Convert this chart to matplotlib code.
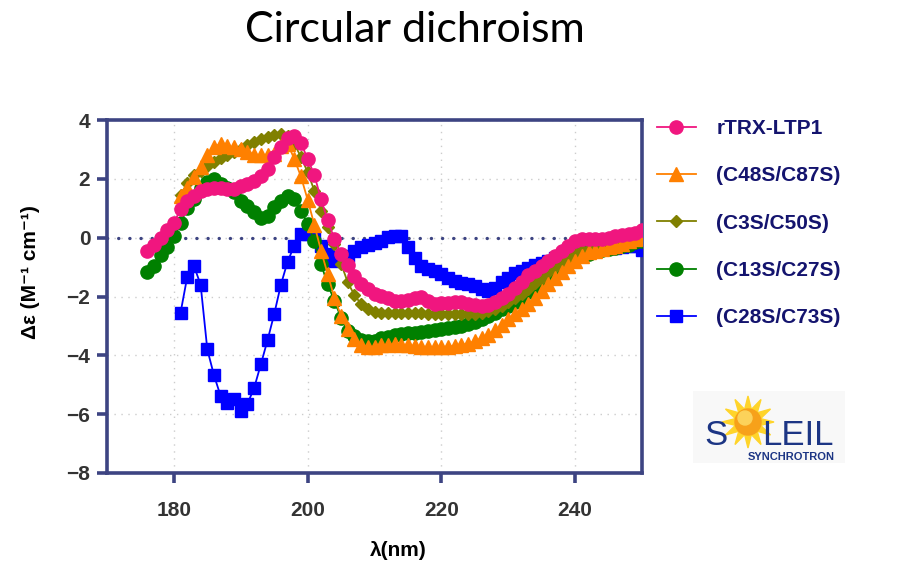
import numpy as np
import matplotlib
matplotlib.use("Agg")
import matplotlib.pyplot as plt
from matplotlib.patches import Circle, Polygon

# ---- data (delta epsilon, M^-1 cm^-1) ----
WL_LONG = list(range(176, 251))    # rTRX-LTP1 and C13S/C27S
WL_SHORT = list(range(181, 251))   # the other three mutants

RTRX = [-0.44, -0.24, 0.00, 0.26, 0.49, 0.98, 1.23, 1.41, 1.58, 1.66,
        1.70, 1.70, 1.67, 1.64, 1.76, 1.84, 1.93, 2.10, 2.33, 2.73,
        3.07, 3.39, 3.47, 3.22, 2.68, 2.14, 1.30, 0.60, -0.05, -0.56,
        -0.92, -1.32, -1.56, -1.73, -1.90, -1.97, -2.05, -2.14, -2.16, -2.12,
        -2.05, -2.03, -2.15, -2.24, -2.23, -2.23, -2.20, -2.20, -2.25, -2.30,
        -2.32, -2.30, -2.20, -2.05, -1.90, -1.70, -1.50, -1.28, -1.12, -0.95,
        -0.80, -0.62, -0.45, -0.28, -0.13, -0.05, -0.04, -0.06, -0.03, 0.00,
        0.05, 0.08, 0.12, 0.16, 0.26]

C13S_C27S = [-1.18, -0.96, -0.58, -0.33, 0.07, 0.49, 1.00, 1.33, 1.70, 1.89,
             1.98, 1.83, 1.70, 1.55, 1.26, 1.09, 0.86, 0.66, 0.75, 1.03,
             1.26, 1.43, 1.30, 0.92, 0.47, -0.13, -0.90, -1.58, -2.15, -2.72,
             -3.17, -3.35, -3.48, -3.52, -3.50, -3.42, -3.36, -3.32, -3.28, -3.25,
             -3.23, -3.20, -3.18, -3.15, -3.12, -3.08, -3.04, -3.00, -2.93, -2.86,
             -2.78, -2.66, -2.55, -2.44, -2.32, -2.18, -2.04, -1.86, -1.70, -1.47,
             -1.24, -1.05, -0.90, -0.76, -0.67, -0.60, -0.54, -0.47, -0.43, -0.40,
             -0.36, -0.30, -0.24, -0.16, -0.10]

C48S_C87S = [1.40, 1.68, 2.07, 2.40, 2.80, 3.07, 3.20, 3.10, 3.07, 3.00,
             2.92, 2.82, 2.80, 2.80, 2.86, 3.10, 3.20, 2.68, 2.08, 1.29,
             0.44, -0.44, -1.24, -2.04, -2.66, -3.12, -3.45, -3.65, -3.72, -3.70,
             -3.66, -3.64, -3.63, -3.64, -3.66, -3.68, -3.70, -3.72, -3.73, -3.72,
             -3.70, -3.68, -3.64, -3.60, -3.52, -3.42, -3.30, -3.15, -2.98, -2.78,
             -2.60, -2.44, -2.25, -2.04, -1.80, -1.58, -1.38, -1.18, -0.98, -0.78,
             -0.62, -0.50, -0.44, -0.39, -0.33, -0.27, -0.20, -0.13, -0.06, 0.00]

C3S_C50S = [1.45, 1.85, 2.12, 2.28, 2.45, 2.58, 2.70, 2.80, 2.92, 3.02,
            3.15, 3.26, 3.34, 3.42, 3.48, 3.52, 3.45, 3.20, 2.74, 2.23,
            1.60, 0.92, 0.35, -0.22, -0.88, -1.52, -1.95, -2.26, -2.43, -2.52,
            -2.55, -2.55, -2.56, -2.55, -2.55, -2.56, -2.57, -2.58, -2.58, -2.59,
            -2.60, -2.60, -2.60, -2.60, -2.58, -2.55, -2.50, -2.42, -2.32, -2.20,
            -2.06, -1.90, -1.74, -1.55, -1.36, -1.18, -1.00, -0.82, -0.66, -0.52,
            -0.43, -0.37, -0.32, -0.28, -0.25, -0.20, -0.16, -0.12, -0.08, -0.05]

C28S_C73S = [-2.55, -1.33, -0.96, -1.60, -3.80, -4.68, -5.39, -5.62, -5.50, -5.90,
             -5.65, -5.11, -4.31, -3.49, -2.60, -1.60, -0.82, -0.27, 0.13, 0.13,
             0.00, -0.30, -0.56, -0.79, -0.73, -0.62, -0.44, -0.33, -0.24, -0.19,
             -0.10, 0.01, 0.07, 0.07, -0.33, -0.68, -0.96, -1.07, -1.13, -1.24,
             -1.36, -1.47, -1.53, -1.58, -1.64, -1.75, -1.81, -1.72, -1.52, -1.36,
             -1.20, -1.12, -1.02, -0.92, -0.85, -0.78, -0.70, -0.62, -0.55, -0.50,
             -0.45, -0.42, -0.40, -0.38, -0.36, -0.34, -0.32, -0.30, -0.30, -0.42]

LABELS = ["rTRX-LTP1", "(C48S/C87S)", "(C3S/C50S)", "(C13S/C27S)", "(C28S/C73S)"]
X_TICKS = [180, 200, 220, 240]
Y_TICKS = [-8, -6, -4, -2, 0, 2, 4]

NAVY = "#3d4482"
TXT = "#333333"
LEG_TXT = "#14146e"
LOGO_BLUE = "#1c3584"
FONT = ["Liberation Sans", "DejaVu Sans"]

plt.rcParams["font.family"] = FONT

fig = plt.figure(figsize=(8.99, 5.67), dpi=100)
ax = fig.add_axes([107 / 899, 1 - 473 / 567, 535 / 899, 353 / 567])

# drawing order: blue underneath, pink on top
ax.plot(WL_SHORT, C28S_C73S, "-s", color="#0000ff", ms=8.5, lw=1.3, zorder=3, label=LABELS[4])
ax.plot(WL_LONG, C13S_C27S, "-o", color="#008000", ms=9.5, lw=1.3, zorder=4, label=LABELS[3])
ax.plot(WL_SHORT, C3S_C50S, "-D", color="#808000", ms=6.5, lw=1.3, zorder=5, label=LABELS[2])
ax.plot(WL_SHORT, C48S_C87S, "-^", color="#ff8000", ms=10, lw=1.3, zorder=6, label=LABELS[1])
ax.plot(WL_LONG, RTRX, "-o", color="#f0167f", ms=9.5, lw=1.3, zorder=7, label=LABELS[0])

# dotted zero line (round dots)
ax.axhline(0, color=NAVY, lw=2.4, ls=(0, (0.05, 3.3)), dash_capstyle="round", zorder=2)

ax.set_xlim(170, 250)
ax.set_ylim(-8, 4)
ax.set_xticks(X_TICKS)
ax.set_yticks(Y_TICKS)
ax.grid(True, color="#cccccc", lw=1, ls=(0, (1, 4)), zorder=0)
for s in ax.spines.values():
    s.set_color(NAVY)
    s.set_linewidth(2.6)
ax.tick_params(axis="both", direction="out", length=7, width=2.6, color=NAVY,
               labelsize=15, labelcolor=TXT)
ax.tick_params(axis="x", pad=13)
ax.tick_params(axis="y", pad=5)
for t in ax.get_xticklabels() + ax.get_yticklabels():
    t.set_fontweight("bold")

fig.text(30 / 899, 1 - 272 / 567, "Δε (M⁻¹ cm⁻¹)", rotation=90, ha="center", va="center",
         fontsize=15, fontweight="bold", color="black")
fig.text(398 / 899, 1 - 550 / 567, "λ(nm)", ha="center", va="center",
         fontsize=15, fontweight="bold", color="black")
fig.text(415 / 899, 1 - 42 / 567, "Circular dichroism", ha="center", va="baseline",
         fontsize=31, family=["Lato", "DejaVu Sans"], color="black")

h, l = ax.get_legend_handles_labels()
order = [4, 3, 2, 1, 0]
leg = fig.legend([h[i] for i in order], [l[i] for i in order], loc="upper left",
                 bbox_to_anchor=(657 / 899, 1 - 119 / 567), frameon=False,
                 fontsize=15, handlelength=1.85, handletextpad=1.0, labelspacing=1.36,
                 borderpad=0, borderaxespad=0)
for t in leg.get_texts():
    t.set_fontweight("bold")
    t.set_color(LEG_TXT)

# SOLEIL logo, drawn in a small pixel-space axes
lax = fig.add_axes([693 / 899, 1 - 463 / 567, 152 / 899, 72 / 567])
lax.set_xlim(693, 845)
lax.set_ylim(463, 391)
lax.set_facecolor("#f8f8f8")
for s in lax.spines.values():
    s.set_visible(False)
lax.set_xticks([])
lax.set_yticks([])
ang = np.linspace(0, 2 * np.pi, 25)[:-1]
rad = np.where(np.arange(24) % 2 == 0, 26, 13)
lax.add_patch(Polygon(np.c_[748 + rad * np.cos(ang), 422 + rad * np.sin(ang)],
                      closed=True, color="#ffd42a", zorder=1))
lax.add_patch(Circle((748, 422), 13, color="#f7a11a", zorder=2))
lax.add_patch(Circle((745, 418), 7, color="#fcd25a", zorder=3))
lax.text(716, 445, "S", fontsize=25, color=LOGO_BLUE, ha="center", va="baseline", zorder=4)
lax.text(798, 445, "LEIL", fontsize=25, color=LOGO_BLUE, ha="center", va="baseline", zorder=4)
lax.text(791, 460, "SYNCHROTRON", fontsize=8, fontweight="bold", color=LOGO_BLUE,
         ha="center", va="baseline", zorder=4)

fig.savefig("out.png", dpi=100)
